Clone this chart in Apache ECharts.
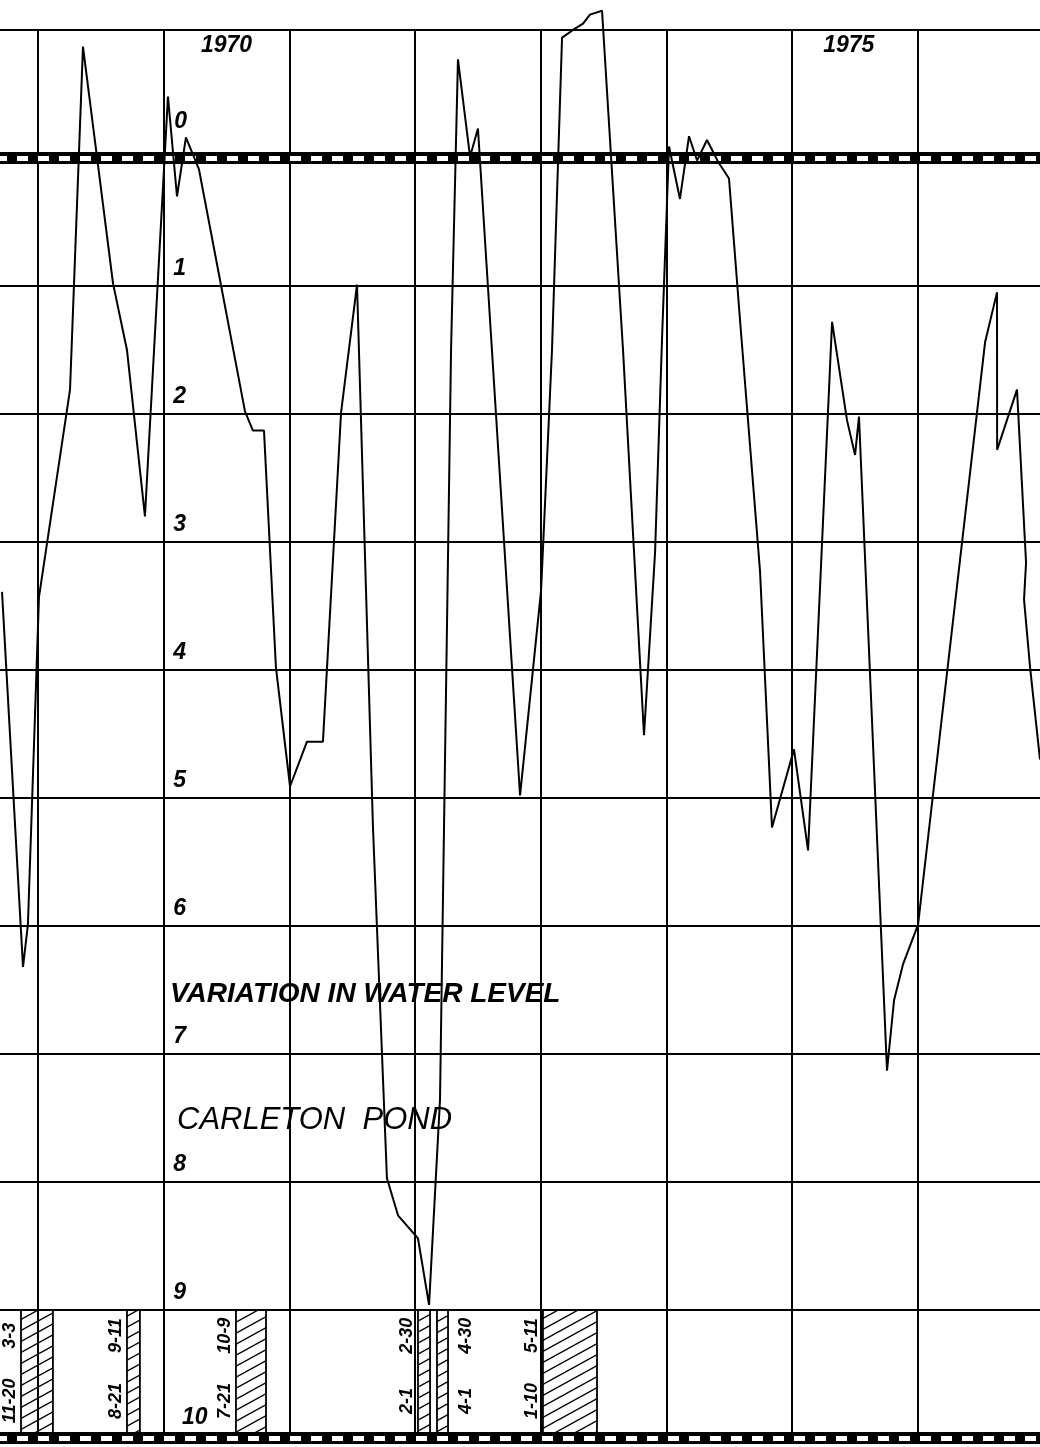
<!DOCTYPE html>
<html><head><meta charset="utf-8">
<script src="https://cdn.jsdelivr.net/npm/echarts@6/dist/echarts.min.js"></script>
<style>html,body{margin:0;padding:0;background:#fff}#c{width:1040px;height:1447px}</style>
</head><body><div id="c"></div>
<script>
// ---- data (time in years, level in feet below datum) ----
const levelTime = [1968.714,1968.881,1968.920,1969.008,1969.255,1969.358,1969.597,1969.708,1969.851,
 1970.034,1970.106,1970.177,1970.281,1970.647,1970.710,1970.798,1970.893,1971.005,1971.140,1971.267,
 1971.411,1971.538,1971.665,1971.776,1971.864,1972.023,1972.111,1972.198,1972.286,1972.341,1972.437,
 1972.500,1972.835,1973.002,1973.089,1973.169,1973.256,1973.336,1973.391,1973.487,1973.654,1973.821,
 1973.909,1973.964,1974.020,1974.107,1974.179,1974.243,1974.322,1974.410,1974.497,1974.585,1974.744,
 1974.839,1975.014,1975.126,1975.317,1975.436,1975.500,1975.531,1975.754,1975.810,1975.881,1976.001,
 1976.534,1976.629,1976.630,1976.788,1976.860,1976.844,1976.892,1976.971];
const levelValue = [3.39,6.32,5.99,3.43,1.81,-0.87,0.98,1.50,2.80,
 -0.48,0.30,-0.16,0.09,1.98,2.13,2.13,3.98,4.91,4.56,4.56,
 1.99,0.99,5.23,7.97,8.26,8.44,8.96,7.36,1.50,-0.77,-0.01,
 -0.23,4.98,3.38,1.50,-0.94,-1.00,-1.05,-1.12,-1.15,1.50,4.51,
 3.08,1.42,-0.09,0.32,-0.17,0.02,-0.14,0.03,0.16,1.27,3.23,
 5.23,4.62,5.41,1.28,2.05,2.32,2.02,7.13,6.58,6.30,5.99,
 1.44,1.05,2.28,1.81,3.16,3.45,3.98,4.70];

const yearLines = [1969,1970,1971,1972,1973,1974,1975,1976];
const levelLines = [-1,1,2,3,4,5,6,7,8,9];
const datumLines = [0,10];
const tickValues = [0,1,2,3,4,5,6,7,8,9,10];
const tickText = ['0','1','2','3','4','5','6','7','8','9','10'];
const yearText = ['1970','1975'];
const yearTextAt = [1970.5,1975.45];

const periodStart = [1968.865,1969.708,1970.575,1972.023,1972.174,1973.017];
const periodEnd   = [1969.119,1969.811,1970.814,1972.119,1972.262,1973.447];
const periodFrom  = ['11-20','8-21','7-21','2-1','4-1','1-10'];
const periodTo    = ['3-3','9-11','10-9','2-30','4-30','5-11'];

const titleMain = 'VARIATION IN WATER LEVEL';
const titleSub = 'CARLETON  POND';

// ---- build ----
const X0 = 1968.698, X1 = 1976.971;
const levelPts = levelTime.map((t,i)=>[t, levelValue[i]]);

function hatchCanvas(){
  const w = 20, h = 11;
  const c = document.createElement('canvas'); c.width = w; c.height = h;
  const g = c.getContext('2d'); g.strokeStyle = '#000'; g.lineWidth = 1.4;
  for (let k = -1; k <= 1; k++) {
    g.beginPath(); g.moveTo(-w, 2*h + k*h); g.lineTo(2*w, -h + k*h); g.stroke();
  }
  return c;
}
const hatch = {image: hatchCanvas(), repeat: 'repeat'};

const gridLineData = [];
yearLines.forEach(y => gridLineData.push({coords: [[y, -1], [y, 10]]}));
levelLines.forEach(v => gridLineData.push({coords: [[X0, v], [X1, v]]}));
const datumData = datumLines.map(v => ({coords: [[X0, v], [X1, v]]}));

const italic = {fontFamily: 'Liberation Sans', fontStyle: 'italic', color: '#000', opacity: 1};

const tickLabelData = tickValues.map((v,i) => {
  let off = [16, -17];
  if (v === 0) off = [17, -36];
  if (v === 10) off = [31, -20];
  return {value: [1970, v], label: {formatter: tickText[i], offset: off}};
});
const yearLabelData = yearText.map((s,i) => ({value: [yearTextAt[i], -1], label: {formatter: s, offset: [0, 16]}}));

const periodLabelData = [];
periodStart.forEach((s,i) => {
  const right = (i === 4);
  const x = right ? periodEnd[i] + 0.145 : s - 0.09;
  periodLabelData.push({value: [x, 9.71], label: {formatter: periodFrom[i]}});
  periodLabelData.push({value: [x, 9.2], label: {formatter: periodTo[i]}});
});

const textSeries = (data, extra) => ({
  type: 'scatter', z: 6, symbolSize: 0, silent: true, data: data,
  itemStyle: {opacity: 1},
  label: Object.assign({show: true, position: 'inside', fontWeight: 'bold'}, italic, extra)
});

const chart = echarts.init(document.getElementById('c'), null, {renderer: 'canvas'});
chart.setOption({
  animation: false,
  backgroundColor: '#fff',
  grid: {left: 0, right: 0, top: 0, bottom: 0},
  xAxis: {type: 'value', min: X0, max: X1, show: false},
  yAxis: {type: 'value', min: -1.234, max: 10.07, inverse: true, show: false},
  title: [
    {text: titleMain, left: 165, top: 975, textStyle: Object.assign({fontSize: 28, fontWeight: 'bold'}, italic)},
    {text: titleSub, left: 172, top: 1100, textStyle: Object.assign({fontSize: 31, fontWeight: 'normal'}, italic)}
  ],
  series: [
    {type: 'lines', coordinateSystem: 'cartesian2d', z: 1, silent: true,
     lineStyle: {color: '#000', width: 2, opacity: 1}, data: gridLineData},
    {type: 'custom', z: 2, silent: true,
     data: periodStart.map((s,i) => [s, periodEnd[i]]),
     renderItem: function(params, api){
       const p0 = api.coord([api.value(0), 9]);
       const p1 = api.coord([api.value(1), 10]);
       return {type: 'rect', shape: {x: p0[0], y: p0[1], width: p1[0]-p0[0], height: p1[1]-p0[1]},
               style: {fill: hatch, stroke: '#000', lineWidth: 1.8}};
     }},
    {type: 'lines', coordinateSystem: 'cartesian2d', z: 3, silent: true,
     lineStyle: {color: '#000', width: 12, opacity: 1}, data: datumData},
    {type: 'lines', coordinateSystem: 'cartesian2d', z: 4, silent: true,
     lineStyle: {color: '#fff', width: 5, opacity: 1, type: [11, 10], dashOffset: 4}, data: datumData},
    {type: 'line', name: 'Water level', z: 5, data: levelPts, symbol: 'none', silent: true,
     lineStyle: {color: '#000', width: 2}},
    textSeries(tickLabelData, {fontSize: 23}),
    textSeries(yearLabelData, {fontSize: 23}),
    textSeries(periodLabelData, {fontSize: 18, rotate: 90})
  ]
});
</script></body></html>
